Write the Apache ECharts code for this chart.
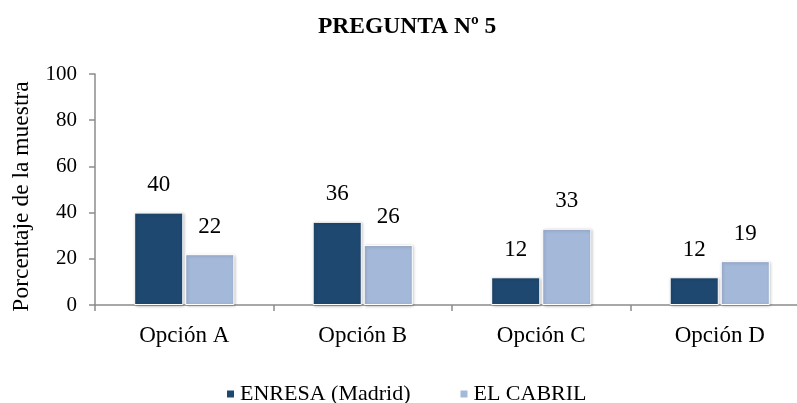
<!DOCTYPE html>
<html>
<head>
<meta charset="utf-8">
<script src="https://cdn.jsdelivr.net/npm/echarts@6/dist/echarts.min.js"></script>
<style>
  html, body { margin: 0; padding: 0; background: #fff; overflow: hidden; }
  /* a bit wider than the window: the plot runs past the right edge */
  #chart { width: 809px; height: 403px; }
</style>
</head>
<body>
<div id="chart"></div>
<script>
  var categories = ['Opción A', 'Opción B', 'Opción C', 'Opción D']
  var enresa = [40, 36, 12, 12]
  var cabril = [22, 26, 33, 19]
  var yTicks = [0, 20, 40, 60, 80, 100]

  var font = '"Liberation Serif", "Times New Roman", serif'

  function barSeries(name, data, color) {
    return {
      name: name,
      type: 'bar',
      data: data,
      barWidth: '27.5%',
      barGap: '4%',
      itemStyle: {
        color: color,
        borderColor: '#fff',
        borderWidth: 1,
        shadowBlur: 3,
        shadowColor: 'rgba(0,0,0,0.25)',
        shadowOffsetX: 1,
        shadowOffsetY: 1
      },
      label: {
        show: true,
        position: 'top',
        distance: 16,
        color: '#000',
        fontFamily: font,
        fontSize: 23
      }
    }
  }

  var chart = echarts.init(document.getElementById('chart'))
  chart.setOption({
    animation: false,
    textStyle: { fontFamily: font },
    title: {
      text: 'PREGUNTA Nº 5',
      left: 313,
      top: 10,
      textStyle: { fontFamily: font, fontSize: 23.5, fontWeight: 'bold', color: '#000' }
    },
    legend: {
      top: 378,
      left: 220,
      itemWidth: 9,
      itemHeight: 9,
      itemGap: 48,
      icon: 'rect',
      textStyle: { fontFamily: font, fontSize: 22, color: '#000' },
      data: ['ENRESA (Madrid)', 'EL CABRIL']
    },
    grid: { left: 95, right: 0, top: 74, height: 231, containLabel: false },
    xAxis: {
      type: 'category',
      data: categories,
      axisLine: { lineStyle: { color: '#8c8c8c', width: 1.5 } },
      axisTick: { show: true, length: 6, alignWithLabel: false, lineStyle: { color: '#8c8c8c', width: 1.5 } },
      axisLabel: { color: '#000', fontFamily: font, fontSize: 23, margin: 19 }
    },
    yAxis: {
      type: 'value',
      min: yTicks[0],
      max: yTicks[yTicks.length - 1],
      interval: 20,
      name: 'Porcentaje de la muestra',
      nameLocation: 'middle',
      nameGap: 61,
      nameRotate: 90,
      nameTextStyle: { color: '#000', fontFamily: font, fontSize: 23.5, padding: [0, 14, 0, 0] },
      axisLine: { show: true, lineStyle: { color: '#8c8c8c', width: 1.5 } },
      axisTick: { show: true, length: 6, lineStyle: { color: '#8c8c8c', width: 1.5 } },
      splitLine: { show: false },
      axisLabel: { color: '#000', fontFamily: font, fontSize: 21, margin: 18 }
    },
    series: [
      barSeries('ENRESA (Madrid)', enresa, '#1f4870'),
      barSeries('EL CABRIL', cabril, '#a4b8d9')
    ]
  })
</script>
</body>
</html>
